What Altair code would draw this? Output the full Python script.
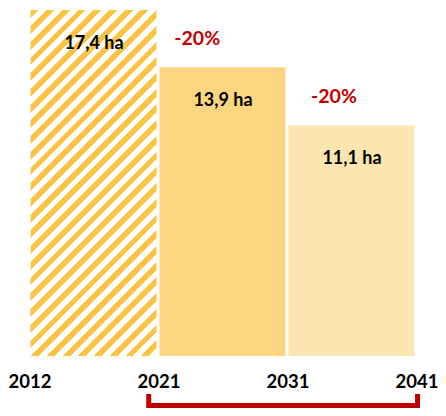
import altair as alt
import pandas as pd

# ---- data ----
years = ["2012", "2021", "2031", "2041"]
values = [17.4, 13.9, 11.1]            # ha per period
kinds = ["hatch", "solid", "solid"]
changes = ["-20%", "-20%"]             # change vs previous period
change_pos = [1.30, 2.36]              # where the change labels sit (period index units)
bracket_x = [0.924, 3.008]             # bracket ends (period index units)
bracket_y = [-1.83, -2.38]             # bracket top / bottom (below axis, data units)

YMAX = 16.66
W, H = 387, 346

HATCH = "#FAC444"
C2 = "#FCD580"
C3 = "#FDE5B1"
RED = "#C00000"

df = pd.DataFrame({
    "start": [0, 1, 2],
    "end": [1, 2, 3],
    "value": values,
    "kind": kinds,
    "color": [HATCH, C2, C3],
})
df_change = pd.DataFrame({"pos": change_pos, "value": values[1:], "txt": changes})
df_br = pd.DataFrame({
    "x": [bracket_x[0], bracket_x[0], bracket_x[1], bracket_x[1]],
    "y": [bracket_y[0], bracket_y[1], bracket_y[1], bracket_y[0]],
    "o": [0, 1, 2, 3],
})

xscale = alt.Scale(domain=[0, 3], nice=False, zero=False)
yscale = alt.Scale(domain=[0, YMAX], nice=False)

label_expr = "[" + ",".join("'%s'" % y for y in years) + "][datum.value]"

x_axis = alt.Axis(values=[0, 1, 2, 3], labelExpr=label_expr, title=None, domain=False,
                  ticks=False, tickSize=0, grid=False, labelFlush=False,
                  labelFont="Lato", labelFontWeight="bold", labelFontSize=18.5,
                  labelColor="#000000", labelPadding=16, labelBaseline="top")

# hatched gradient for the first bar (stripes at 45 degrees)
bw = W / 3 - 3
bh = values[0] * H / YMAX
r = bw / bh
b = (1 + r) / (1 + r * r)
a = r * b
n = int(round((bw + bh) / 15.9))
stops = []
for k in range(n):
    stops += [
        {"offset": k / n, "color": HATCH},
        {"offset": (k + 0.5) / n, "color": HATCH},
        {"offset": (k + 0.5) / n, "color": "#FFFFFF"},
        {"offset": (k + 1) / n, "color": "#FFFFFF"},
    ]
hatch = {"gradient": "linear", "x1": 0, "y1": 0, "x2": a, "y2": b, "stops": stops}

base = alt.Chart(df)

bar_hatch = base.transform_filter("datum.kind == 'hatch'").mark_bar(
    fill=hatch, clip=True, xOffset=1, x2Offset=-2
).encode(
    x=alt.X("start:Q", scale=xscale, axis=x_axis),
    x2="end:Q",
    y=alt.Y("value:Q", scale=yscale, axis=None),
    y2=alt.datum(0),
)

bar_solid = base.transform_filter("datum.kind == 'solid'").mark_bar(
    clip=True, xOffset=1, x2Offset=-2
).encode(
    x=alt.X("start:Q", scale=xscale),
    x2="end:Q",
    y=alt.Y("value:Q", scale=yscale),
    y2=alt.datum(0),
    fill=alt.Fill("color:N", scale=None),
)

labels = base.transform_calculate(
    ly=f"min(datum.value, {YMAX})",
    mid="(datum.start + datum.end) / 2",
    txt="replace(format(datum.value, '.1f'), '.', ',') + ' ha'",
).mark_text(
    font="Lato", fontWeight="bold", fontSize=18, color="#000000",
    baseline="middle", align="center", dy=34
).encode(
    x=alt.X("mid:Q", scale=xscale),
    y=alt.Y("ly:Q", scale=yscale),
    text="txt:N",
)

change_lbl = alt.Chart(df_change).mark_text(
    font="Lato", fontWeight="bold", fontSize=19.5, color=RED,
    baseline="middle", align="center", dy=-28
).encode(
    x=alt.X("pos:Q", scale=xscale),
    y=alt.Y("value:Q", scale=yscale),
    text="txt:N",
)

bracket = alt.Chart(df_br).mark_line(
    color=RED, strokeWidth=5, strokeJoin="miter", strokeCap="butt"
).encode(
    x=alt.X("x:Q", scale=xscale),
    y=alt.Y("y:Q", scale=yscale),
    order="o:Q",
)

chart = alt.layer(bar_hatch, bar_solid, labels, change_lbl, bracket).properties(
    width=W, height=H,
    autosize=alt.AutoSizeParams(type="none"),
    padding={"left": 21.5, "top": 2, "right": 21.5, "bottom": 52},
).configure_view(stroke=None)

chart.save("out.html", embed_options={"renderer": "svg", "actions": False})
